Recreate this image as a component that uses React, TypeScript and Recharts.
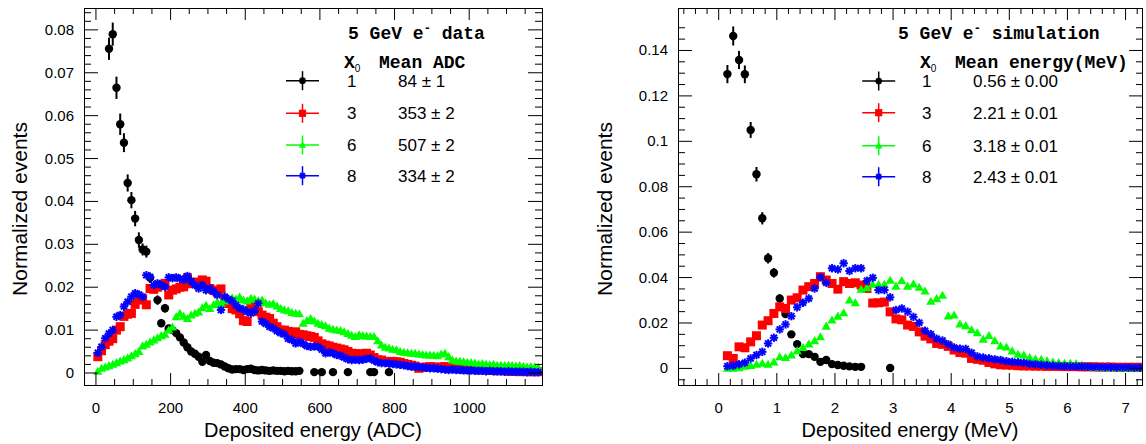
import React from "react";
import { ScatterChart, Scatter, XAxis, YAxis, ErrorBar } from "recharts";

// ---------- left panel: data, 10 ADC bins ----------
const adcBins = Array.from({ length: 119 }, (_, i) => 5 + 10 * i);

const blackAdcBins = [
  35, 45, 55, 65, 75, 85, 95, 105, 115, 125, 135, 145,
  165, 175, 185, 195, 205, 215, 225, 235, 245, 255,
  265, 275, 285, 295, 305, 315, 325, 335, 345, 355,
  365, 375, 385, 395, 405, 415, 425, 435, 445, 455,
  465, 475, 485, 495, 505, 515, 525, 535, 545,
  585, 605, 635, 675, 735, 745, 785,
];
const blackAdc = [
  0.0756, 0.079, 0.0665, 0.058, 0.0537, 0.0443, 0.0403, 0.036, 0.031, 0.0288, 0.0283, 0.0222,
  0.017, 0.0116, 0.0151, 0.0104, 0.01, 0.0093, 0.0083, 0.0071, 0.006, 0.005,
  0.0045, 0.0038, 0.0026, 0.0042, 0.0028, 0.0024, 0.0023, 0.002, 0.0015, 0.0011,
  0.0008, 0.0009, 0.0009, 0.0007, 0.0009, 0.001, 0.0007, 0.0006, 0.0007, 0.0006,
  0.0005, 0.0006, 0.0005, 0.0005, 0.0004, 0.0005, 0.0004, 0.0004, 0.0005,
  0.0002, 0.0002, 0.0002, 0.0002, 0.0002, 0.0002, 0.0002,
];
const blackAdcErr = [
  0.0026, 0.0027, 0.0026, 0.0025, 0.0022, 0.002, 0.0019, 0.0018, 0.0018, 0.0014, 0.0014, 0.0012,
  0.0011, 0.0009, 0.001, 0.0008, 0.0008, 0.0008, 0.0007, 0.0007, 0.0006, 0.0006,
  0.0006, 0.0005, 0.0004, 0.0005, 0.0004, 0.0004, 0.0004, 0.0004, 0.0003, 0.0003,
  0.0003, 0.0003, 0.0003, 0.0002, 0.0003, 0.0003, 0.0002, 0.0002, 0.0002, 0.0002,
  0.0002, 0.0002, 0.0002, 0.0002, 0.0002, 0.0002, 0.0002, 0.0002, 0.0002,
  0.0001, 0.0001, 0.0001, 0.0001, 0.0001, 0.0001, 0.0001,
];
const redAdc = [
  0.0038, 0.0052, 0.0066, 0.0074, 0.008, 0.01, 0.0108, 0.0132, 0.0137, 0.0139,
  0.016, 0.017, 0.0173, 0.0159, 0.0197, 0.0195, 0.02, 0.0205, 0.0209, 0.0182,
  0.0193, 0.0196, 0.02, 0.0201, 0.0222, 0.0208, 0.0212, 0.0209, 0.0217, 0.0214,
  0.0197, 0.0193, 0.0188, 0.0196, 0.0172, 0.0162, 0.015, 0.0147, 0.0138, 0.0122,
  0.012, 0.0155, 0.0147, 0.0143, 0.0135, 0.013, 0.0127, 0.0116, 0.0108, 0.01,
  0.01, 0.0097, 0.0094, 0.0096, 0.009, 0.0089, 0.0087, 0.0085, 0.0083, 0.0075,
  0.0068, 0.0065, 0.0063, 0.006, 0.0058, 0.0056, 0.0054, 0.005, 0.0046, 0.0045,
  0.0044, 0.0045, 0.0046, 0.0042, 0.0036, 0.0031, 0.003, 0.0027, 0.0026, 0.0027,
  0.0026, 0.0025, 0.0022, 0.002, 0.0018, 0.0016, 0.0011, 0.0013, 0.0014, 0.0015,
  0.0014, 0.0013, 0.0014, 0.0015, 0.0013, 0.0011, 0.001, 0.001, 0.0009, 0.0009,
  0.0008, 0.0008, 0.0007, 0.0008, 0.0007, 0.0006, 0.0006, 0.0005, 0.0006, 0.0005,
  0.0004, 0.0004, 0.0004, 0.0003, 0.0004, 0.0003, 0.0003, 0.0003, 0.0003,
];
const greenAdc = [
  0.0004, 0.0011, 0.0014, 0.0017, 0.002, 0.0024, 0.0028, 0.0031, 0.0035, 0.004,
  0.0045, 0.005, 0.0063, 0.0067, 0.0072, 0.0077, 0.0082, 0.0087, 0.009, 0.01,
  0.0107, 0.0131, 0.0139, 0.0132, 0.0127, 0.0135, 0.0139, 0.0142, 0.0152, 0.0158,
  0.015, 0.0159, 0.0165, 0.0162, 0.0168, 0.017, 0.0175, 0.0172, 0.0177, 0.017,
  0.0168, 0.0174, 0.0172, 0.0169, 0.017, 0.0163, 0.016, 0.0162, 0.0156, 0.015,
  0.0147, 0.0145, 0.0141, 0.0139, 0.0138, 0.0116, 0.0122, 0.0127, 0.0121, 0.0116,
  0.0113, 0.011, 0.0104, 0.0102, 0.01, 0.0099, 0.0096, 0.0092, 0.0088, 0.0085,
  0.0089, 0.0087, 0.0086, 0.0085, 0.0085, 0.0075, 0.0065, 0.006, 0.0058, 0.0055,
  0.0054, 0.005, 0.0048, 0.0047, 0.0046, 0.0046, 0.0044, 0.0043, 0.0042, 0.0042,
  0.0041, 0.004, 0.0044, 0.0046, 0.0038, 0.003, 0.0028, 0.0027, 0.0026, 0.0025,
  0.0024, 0.0023, 0.0021, 0.0022, 0.002, 0.0019, 0.002, 0.0018, 0.0018, 0.0017,
  0.0018, 0.0017, 0.0016, 0.0017, 0.0015, 0.0014, 0.0015, 0.0014, 0.0013,
];
const blueAdc = [
  0.0047, 0.0061, 0.0081, 0.0092, 0.01, 0.0131, 0.0135, 0.0155, 0.0166, 0.0178,
  0.0186, 0.0183, 0.0178, 0.0228, 0.0224, 0.0205, 0.0209, 0.0205, 0.0201, 0.0223,
  0.0221, 0.0223, 0.022, 0.0217, 0.0226, 0.0214, 0.0205, 0.0197, 0.0205, 0.0193,
  0.0197, 0.019, 0.0182, 0.0147, 0.0178, 0.0172, 0.0168, 0.0158, 0.0151, 0.0148,
  0.0143, 0.0139, 0.0145, 0.0162, 0.012, 0.0115, 0.0108, 0.0104, 0.0098, 0.0093,
  0.009, 0.008, 0.0077, 0.0069, 0.0073, 0.0068, 0.0063, 0.0061, 0.0062, 0.0061,
  0.0055, 0.0046, 0.0048, 0.0046, 0.0042, 0.004, 0.0036, 0.0032, 0.003, 0.0031,
  0.003, 0.0031, 0.0033, 0.0034, 0.0029, 0.0025, 0.0023, 0.0023, 0.0022, 0.0021,
  0.002, 0.0019, 0.0018, 0.0016, 0.0015, 0.0015, 0.0014, 0.0013, 0.0012, 0.0011,
  0.0011, 0.001, 0.0009, 0.0008, 0.0007, 0.0008, 0.0007, 0.0007, 0.0006, 0.0006,
  0.0006, 0.0005, 0.0005, 0.0005, 0.0004, 0.0005, 0.0004, 0.0004, 0.0004, 0.0003,
  0.0004, 0.0003, 0.0003, 0.0003, 0.0003, 0.0002, 0.0003, 0.0002, 0.0002,
];

// ---------- right panel: simulation, 0.1 MeV bins ----------
const mevBins = Array.from({ length: 72 }, (_, i) => +(0.15 + 0.1 * i).toFixed(2));

const blackMevBins = [
  0.15, 0.25, 0.35, 0.45, 0.55, 0.65, 0.75, 0.85, 0.95, 1.05, 1.15, 1.25,
  1.35, 1.45, 1.55, 1.65, 1.75, 1.85, 1.95, 2.05, 2.15, 2.25, 2.35, 2.45, 2.95,
];
const blackMev = [
  0.1296, 0.1464, 0.1358, 0.1295, 0.105, 0.0855, 0.0661, 0.0485, 0.0421, 0.0308, 0.0239, 0.015,
  0.0107, 0.0063, 0.0063, 0.0051, 0.0029, 0.0037, 0.0019, 0.0015, 0.0012, 0.0009, 0.0007, 0.0007, 0.0002,
];
const blackMevErr = [
  0.004, 0.0042, 0.004, 0.0039, 0.0035, 0.0032, 0.0027, 0.0023, 0.0021, 0.0018, 0.0016, 0.0012,
  0.001, 0.0008, 0.0008, 0.0007, 0.0005, 0.0006, 0.0004, 0.0004, 0.0003, 0.0003, 0.0003, 0.0003, 0.0001,
];
const redMev = [
  0.0056, 0.0044, 0.0095, 0.0091, 0.0117, 0.0144, 0.0191, 0.021, 0.0242, 0.0271,
  0.0264, 0.0301, 0.0311, 0.0345, 0.036, 0.0374, 0.0404, 0.0389, 0.0374, 0.0349,
  0.0382, 0.0374, 0.0377, 0.0367, 0.0352, 0.0288, 0.0289, 0.0292, 0.0249, 0.0218,
  0.0214, 0.0191, 0.0185, 0.0161, 0.0142, 0.013, 0.011, 0.0106, 0.0097, 0.0081,
  0.007, 0.0067, 0.0044, 0.004, 0.0036, 0.0026, 0.002, 0.0016, 0.0015, 0.0014,
  0.0012, 0.0011, 0.0011, 0.001, 0.001, 0.0009, 0.0009, 0.0009, 0.0008, 0.0008,
  0.0008, 0.0007, 0.0007, 0.0007, 0.0006, 0.0006, 0.0006, 0.0005, 0.0005, 0.0005,
  0.0005, 0.0005,
];
const greenMev = [
  0.0, 0.0001, 0.0003, 0.0009, 0.0013, 0.0018, 0.0022, 0.0018, 0.0028, 0.0051,
  0.0048, 0.0059, 0.0078, 0.0092, 0.0107, 0.0122, 0.0139, 0.0186, 0.0213, 0.023,
  0.0245, 0.0301, 0.0289, 0.0348, 0.0355, 0.037, 0.037, 0.037, 0.0388, 0.0362,
  0.0387, 0.0362, 0.0372, 0.0357, 0.0341, 0.0295, 0.0307, 0.0322, 0.0231, 0.0235,
  0.0195, 0.0188, 0.017, 0.0157, 0.0128, 0.0145, 0.0122, 0.0098, 0.0094, 0.0077,
  0.0062, 0.0059, 0.0048, 0.0041, 0.004, 0.0033, 0.0028, 0.0026, 0.0022, 0.0022,
  0.0021, 0.0014, 0.0008, 0.0006, 0.0004, 0.0003, 0.0003, 0.0002, 0.0002, 0.0002,
  0.0002, 0.0002,
];
const blueMev = [
  0.001, 0.0012, 0.0018, 0.0025, 0.0044, 0.0059, 0.0073, 0.011, 0.0135, 0.0172,
  0.0194, 0.023, 0.0269, 0.0289, 0.0308, 0.0352, 0.0401, 0.0377, 0.0441, 0.0436,
  0.0463, 0.0429, 0.0441, 0.0441, 0.0386, 0.0399, 0.0345, 0.0345, 0.0313, 0.0257,
  0.0264, 0.025, 0.0227, 0.0201, 0.0166, 0.0151, 0.0131, 0.0123, 0.0106, 0.0092,
  0.0087, 0.0086, 0.0069, 0.0053, 0.0048, 0.0044, 0.004, 0.0037, 0.0032, 0.0029,
  0.0027, 0.0025, 0.002, 0.0018, 0.0016, 0.0014, 0.0012, 0.0011, 0.001, 0.0009,
  0.0008, 0.0008, 0.0007, 0.0006, 0.0006, 0.0005, 0.0005, 0.0004, 0.0004, 0.0004,
  0.0003, 0.0003,
];

// ---------- legend text ----------
const x0Labels = ["1", "3", "6", "8"];
const meanAdcLabels = ["84 \u00b1 1", "353 \u00b1 2", "507 \u00b1 2", "334 \u00b1 2"];
const meanMevLabels = ["0.56 \u00b1 0.00", "2.21 \u00b1 0.01", "3.18 \u00b1 0.01", "2.43 \u00b1 0.01"];
const colors = ["#000000", "#ff0000", "#00ff00", "#0000ff"];
const kinds = ["circle", "square", "triangle", "star"];

// ---------- ticks ----------
const adcMajor = [0, 200, 400, 600, 800, 1000];
const adcTicks = Array.from({ length: 24 }, (_, i) => i * 50);
const evtMajorL = [0, 0.01, 0.02, 0.03, 0.04, 0.05, 0.06, 0.07, 0.08];
const evtTicksL = Array.from({ length: 43 }, (_, i) => +(i * 0.002).toFixed(4));
const mevMajor = [0, 1, 2, 3, 4, 5, 6, 7];
const mevTicks = Array.from({ length: 40 }, (_, i) => +(-0.6 + 0.2 * i).toFixed(2));
const evtMajorR = [0, 0.02, 0.04, 0.06, 0.08, 0.1, 0.12, 0.14];
const evtTicksR = Array.from({ length: 32 }, (_, i) => +(-0.005 + 0.005 * i).toFixed(4));

const SANS = "'Liberation Sans', Arial, Helvetica, sans-serif";
const MONO = "'Liberation Mono', 'Courier New', monospace";

const pts = (xs: number[], ys: number[], errs?: number[]) =>
  xs.map((x, i) => ({ x, y: ys[i], err: errs ? errs[i] : 0 }));

function Marker({ kind, cx, cy, color, s = 1 }: any) {
  if (kind === "circle") return <circle cx={cx} cy={cy} r={4.2 * s} fill={color} />;
  if (kind === "square")
    return <rect x={cx - 4.5 * s} y={cy - 4.5 * s} width={9 * s} height={9 * s} fill={color} />;
  if (kind === "triangle") {
    const h = 4.6 * s;
    return (
      <polygon
        points={`${cx},${cy - h} ${cx - h},${cy + h * 0.75} ${cx + h},${cy + h * 0.75}`}
        fill={color}
      />
    );
  }
  const r = 4.2 * s;
  const d = r * 0.72;
  return (
    <g stroke={color} strokeWidth={2}>
      <line x1={cx - r} y1={cy} x2={cx + r} y2={cy} />
      <line x1={cx} y1={cy - r} x2={cx} y2={cy + r} />
      <line x1={cx - d} y1={cy - d} x2={cx + d} y2={cy + d} />
      <line x1={cx - d} y1={cy + d} x2={cx + d} y2={cy - d} />
    </g>
  );
}

const isMajor = (majors: number[], v: number) => majors.some((m) => Math.abs(m - v) < 1e-9);
const fmt = (v: number) => (v === 0 ? "0" : String(+v.toFixed(3)));

type Frame = { left: number; right: number; top: number; bottom: number };

function Panel(props: {
  offset: number;
  width: number;
  margin: any;
  frame: Frame;
  xDomain: number[];
  yDomain: number[];
  xTicks: number[];
  xMajor: number[];
  yTicks: number[];
  yMajor: number[];
  xs: number[];
  red: number[];
  green: number[];
  blue: number[];
  blackX: number[];
  black: number[];
  blackErr: number[];
}) {
  const { frame } = props;
  const xTick = (p: any) => {
    const v = p.payload.value;
    const major = isMajor(props.xMajor, v);
    const len = major ? 12 : 6;
    return (
      <g>
        <line x1={p.x} x2={p.x} y1={frame.bottom} y2={frame.bottom - len} stroke="#000" />
        <line x1={p.x} x2={p.x} y1={frame.top} y2={frame.top + len} stroke="#000" />
        {major && (
          <text x={p.x} y={frame.bottom + 28} textAnchor="middle" fontFamily={SANS} fontSize={15} fill="#000">
            {fmt(v)}
          </text>
        )}
      </g>
    );
  };
  const yTick = (p: any) => {
    const v = p.payload.value;
    const major = isMajor(props.yMajor, v);
    const len = major ? 14 : 7;
    return (
      <g>
        <line x1={frame.left} x2={frame.left + len} y1={p.y} y2={p.y} stroke="#000" />
        <line x1={frame.right} x2={frame.right - len} y1={p.y} y2={p.y} stroke="#000" />
        {major && (
          <text x={frame.left - 10} y={p.y + 5} textAnchor="end" fontFamily={SANS} fontSize={15} fill="#000">
            {fmt(v)}
          </text>
        )}
      </g>
    );
  };
  const series = [
    { data: pts(props.xs, props.red), kind: "square", color: colors[1] },
    { data: pts(props.xs, props.green), kind: "triangle", color: colors[2] },
    { data: pts(props.xs, props.blue), kind: "star", color: colors[3] },
  ];
  return (
    <div style={{ position: "absolute", left: props.offset, top: 0 }}>
      <ScatterChart width={props.width} height={444} margin={props.margin}>
        <XAxis
          type="number"
          dataKey="x"
          domain={props.xDomain}
          allowDataOverflow
          ticks={props.xTicks}
          interval={0}
          height={59}
          axisLine={false}
          tickLine={false}
          tickSize={0}
          tick={xTick}
        />
        <YAxis
          type="number"
          dataKey="y"
          domain={props.yDomain}
          allowDataOverflow
          ticks={props.yTicks}
          interval={0}
          width={60}
          axisLine={false}
          tickLine={false}
          tickSize={0}
          tick={yTick}
        />
        <Scatter
          data={pts(props.blackX, props.black, props.blackErr)}
          isAnimationActive={false}
          shape={(p: any) => <Marker kind="circle" cx={p.cx} cy={p.cy} color="#000" />}
        >
          <ErrorBar dataKey="err" direction="y" width={0} stroke="#000" strokeWidth={2} />
        </Scatter>
        {series.map((s, i) => (
          <Scatter
            key={i}
            data={s.data}
            isAnimationActive={false}
            shape={(p: any) => <Marker kind={s.kind} cx={p.cx} cy={p.cy} color={s.color} />}
          />
        ))}
      </ScatterChart>
    </div>
  );
}

function Legend({ x, title, header, lineX, numX, valX, rowsY, values }: any) {
  return (
    <g>
      <text x={x.title} y={39} fontFamily={MONO} fontWeight="bold" fontSize={18} fill="#000">
        5 GeV e
        <tspan dy={-7} fontSize={12}>-</tspan>
        <tspan dy={7}>{" " + title}</tspan>
      </text>
      <text x={x.x0} y={68} fontFamily={MONO} fontWeight="bold" fontSize={18} fill="#000">
        X<tspan dy={4} fontSize={10} fontFamily={SANS} fontWeight="normal">0</tspan>
      </text>
      <text x={x.header} y={68} fontFamily={MONO} fontWeight="bold" fontSize={18} fill="#000">
        {header}
      </text>
      {rowsY.map((cy: number, i: number) => (
        <g key={i}>
          <line x1={lineX - 16.5} x2={lineX + 16.5} y1={cy} y2={cy} stroke={colors[i]} strokeWidth={1.5} />
          <line x1={lineX} x2={lineX} y1={cy - 9.5} y2={cy + 9.5} stroke={colors[i]} strokeWidth={1.5} />
          <Marker kind={kinds[i]} cx={lineX} cy={cy} color={colors[i]} s={0.8} />
          <text x={numX} y={cy + 6} fontFamily={SANS} fontSize={17} fill="#000">
            {x0Labels[i]}
          </text>
          <text x={valX} y={cy + 6} fontFamily={SANS} fontSize={17} fill="#000">
            {values[i]}
          </text>
        </g>
      ))}
    </g>
  );
}

export default function App() {
  return (
    <div style={{ position: "absolute", left: 0, top: 0, width: 1146, height: 444, background: "#fff" }}>
      <Panel
        offset={0}
        width={560}
        margin={{ top: 8, right: 18, bottom: 0, left: 24 }}
        frame={{ left: 84, right: 542, top: 8, bottom: 385 }}
        xDomain={[-32, 1195]}
        yDomain={[-0.0028, 0.0851]}
        xTicks={adcTicks}
        xMajor={adcMajor}
        yTicks={evtTicksL}
        yMajor={evtMajorL}
        xs={adcBins}
        red={redAdc}
        green={greenAdc}
        blue={blueAdc}
        blackX={blackAdcBins}
        black={blackAdc}
        blackErr={blackAdcErr}
      />
      <Panel
        offset={600}
        width={546}
        margin={{ top: 8, right: 3, bottom: 0, left: 18 }}
        frame={{ left: 78, right: 543, top: 8, bottom: 385 }}
        xDomain={[-0.7, 7.3]}
        yDomain={[-0.0073, 0.1587]}
        xTicks={mevTicks}
        xMajor={mevMajor}
        yTicks={evtTicksR}
        yMajor={evtMajorR}
        xs={mevBins}
        red={redMev}
        green={greenMev}
        blue={blueMev}
        blackX={blackMevBins}
        black={blackMev}
        blackErr={blackMevErr}
      />
      <svg
        width={1146}
        height={444}
        style={{ position: "absolute", left: 0, top: 0, pointerEvents: "none" }}
      >
        <rect x={84.5} y={8.5} width={458} height={377} fill="none" stroke="#000" />
        <rect x={678.5} y={8.5} width={464} height={377} fill="none" stroke="#000" />
        <text transform="translate(27,209) rotate(-90)" textAnchor="middle" fontFamily={SANS} fontSize={21} fill="#000">
          Normalized events
        </text>
        <text transform="translate(612,209) rotate(-90)" textAnchor="middle" fontFamily={SANS} fontSize={21} fill="#000">
          Normalized events
        </text>
        <text x={313} y={437} textAnchor="middle" fontFamily={SANS} fontSize={20} fill="#000">
          Deposited energy (ADC)
        </text>
        <text x={910} y={437} textAnchor="middle" fontFamily={SANS} fontSize={20} fill="#000">
          Deposited energy (MeV)
        </text>
        <Legend
          x={{ title: 348, x0: 344, header: 379 }}
          title="data"
          header="Mean ADC"
          lineX={302.5}
          numX={347}
          valX={398}
          rowsY={[80.7, 113.3, 145, 175.7]}
          values={meanAdcLabels}
        />
        <Legend
          x={{ title: 898, x0: 920, header: 955 }}
          title="simulation"
          header="Mean energy(MeV)"
          lineX={878.7}
          numX={922}
          valX={973}
          rowsY={[81, 112.7, 145.7, 176.7]}
          values={meanMevLabels}
        />
      </svg>
    </div>
  );
}
